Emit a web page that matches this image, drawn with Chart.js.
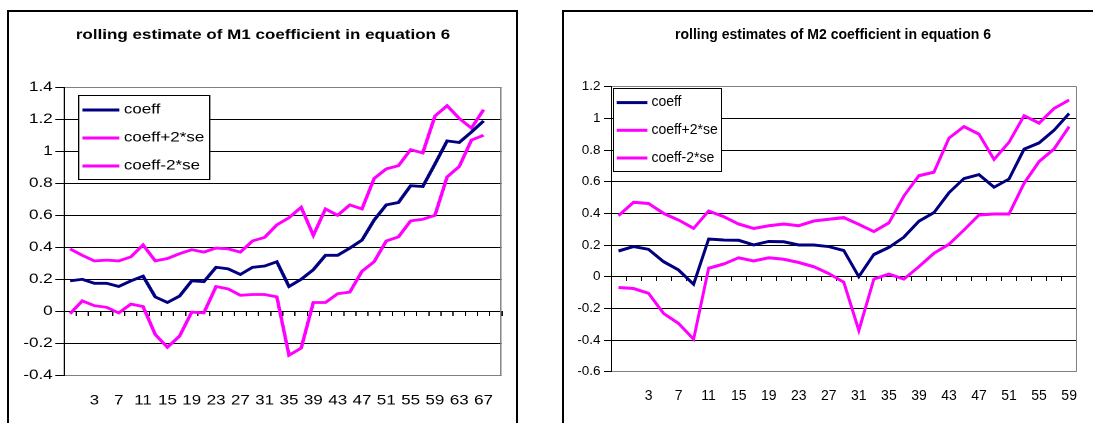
<!DOCTYPE html>
<html><head><meta charset="utf-8">
<script src="https://cdn.jsdelivr.net/npm/chart.js@4.4.1/dist/chart.umd.min.js"></script>
<style>
html,body{margin:0;padding:0;background:#fff;width:1093px;height:423px;overflow:hidden;position:relative}
.box{position:absolute;border:2px solid #000;box-sizing:border-box}
#box1{left:7px;top:10px;width:511px;height:460px}
#box2{left:562px;top:10px;width:600px;height:460px}
#c1{position:absolute;left:0;top:0;transform:scaleX(1.26);transform-origin:0 0}
#c2{position:absolute;left:556px;top:0}
</style></head><body>
<div class="box" id="box1"></div><div class="box" id="box2"></div>
<canvas id="c1" width="411" height="423"></canvas>
<canvas id="c2" width="537" height="423"></canvas>
<script>
// ---- data ----
const m1Periods = ["","1","3","5","7","9","11","13","15","17","19","21","23","25","27","29","31","33","35","37","39","41","43","45","47","49","51","53","55","57","59","61","63","65","67","69"];
const m1Coeff = [0.19,0.20,0.175,0.175,0.155,0.19,0.22,0.09,0.055,0.095,0.19,0.185,0.275,0.265,0.23,0.275,0.283,0.31,0.155,0.20,0.26,0.35,0.35,0.395,0.445,0.57,0.665,0.68,0.785,0.78,0.92,1.065,1.055,1.12,1.19,null];
const m1Upper = [0.39,0.35,0.315,0.32,0.315,0.34,0.415,0.315,0.33,0.36,0.385,0.37,0.395,0.39,0.37,0.44,0.462,0.54,0.585,0.65,0.475,0.64,0.60,0.665,0.64,0.83,0.89,0.91,1.01,0.99,1.22,1.285,1.205,1.145,1.26,null];
const m1Lower = [-0.015,0.065,0.035,0.025,-0.01,0.045,0.03,-0.145,-0.225,-0.155,-0.005,-0.01,0.155,0.14,0.10,0.105,0.105,0.09,-0.275,-0.23,0.055,0.055,0.11,0.12,0.25,0.31,0.44,0.465,0.565,0.575,0.60,0.84,0.905,1.07,1.10,null];

const m2Periods = ["","1","3","5","7","9","11","13","15","17","19","21","23","25","27","29","31","33","35","37","39","41","43","45","47","49","51","53","55","57","59"];
const m2Coeff = [0.162,0.19,0.173,0.095,0.042,-0.048,0.238,0.232,0.23,0.20,0.223,0.22,0.20,0.20,0.19,0.165,0.0,0.14,0.185,0.25,0.35,0.405,0.53,0.62,0.645,0.565,0.617,0.805,0.845,0.925,1.03];
const m2Upper = [0.385,0.47,0.463,0.40,0.358,0.305,0.415,0.38,0.333,0.305,0.322,0.333,0.322,0.352,0.363,0.373,0.33,0.285,0.34,0.51,0.638,0.66,0.875,0.948,0.90,0.74,0.85,1.017,0.97,1.063,1.116];
const m2Lower = [-0.068,-0.075,-0.105,-0.232,-0.295,-0.395,0.053,0.08,0.12,0.10,0.12,0.11,0.09,0.063,0.02,-0.035,-0.34,-0.015,0.017,-0.015,0.063,0.148,0.205,0.295,0.39,0.396,0.396,0.59,0.727,0.807,0.948];

const seriesLabels = ["coeff","coeff+2*se","coeff-2*se"];
const seriesColors = ["#000080","#FF00FF","#FF00FF"];
const FAMILY = "'Liberation Sans', Arial, sans-serif";

// ---- plugins ----
const plotFrame = {
  id: 'plotFrame',
  beforeDatasetsDraw(chart) {
    const {ctx, chartArea: a} = chart;
    ctx.save();
    ctx.strokeStyle = '#808080'; ctx.lineWidth = 1;
    const x = Math.round(a.right) - 0.5;
    ctx.beginPath(); ctx.moveTo(x, a.top); ctx.lineTo(x, a.bottom); ctx.stroke();
    ctx.restore();
  }
};
const boxedLegend = {
  id: 'boxedLegend',
  afterDatasetsDraw(chart, args, o) {
    const {ctx, chartArea} = chart;
    const x = Math.round(chartArea.left + o.dx), y = Math.round(chartArea.top + o.dy);
    ctx.save();
    ctx.fillStyle = '#fff'; ctx.fillRect(x, y, o.w, o.h);
    ctx.strokeStyle = '#000'; ctx.lineWidth = 1; ctx.strokeRect(x + 0.5, y + 0.5, o.w, o.h);
    ctx.font = o.font; ctx.textBaseline = 'middle'; ctx.textAlign = 'left';
    chart.data.datasets.forEach((ds, i) => {
      const cy = y + o.first + i * o.rowH;
      ctx.strokeStyle = ds.borderColor; ctx.lineWidth = o.lw;
      ctx.beginPath(); ctx.moveTo(x + o.lineX0, cy); ctx.lineTo(x + o.lineX1, cy); ctx.stroke();
      ctx.fillStyle = '#000';
      ctx.fillText(ds.label, x + o.textX, cy);
    });
    ctx.restore();
  }
};

function makeChart(canvas, c) {
  const series = [c.coeff, c.upper, c.lower];
  return new Chart(canvas, {
    type: 'line',
    data: {
      labels: c.labels,
      datasets: series.map((d, i) => ({
        label: seriesLabels[i], data: d, borderColor: seriesColors[i],
        backgroundColor: seriesColors[i], borderWidth: c.lw, pointRadius: 0, tension: 0, fill: false
      }))
    },
    options: {
      responsive: false, animation: false, devicePixelRatio: c.dpr,
      layout: {padding: {left: c.padL, right: c.padR, top: 0, bottom: 0}},
      plugins: {
        legend: {display: false}, tooltip: {enabled: false},
        title: {display: true, text: c.title, color: '#000',
          font: {family: FAMILY, size: c.titleSize, weight: 'bold', lineHeight: 1.2},
          padding: {top: c.titleTop, bottom: c.titleBottom}},
        boxedLegend: c.legend
      },
      scales: {
        x: {
          type: 'category', position: 'bottom', offset: true,
          grid: {display: false, drawTicks: false}, border: {display: false},
          ticks: {autoSkip: false, maxRotation: 0, minRotation: 0, padding: c.xPad, color: '#000',
            font: {family: FAMILY, size: c.xTickSize},
            callback(v, i) { return i % 2 === 0 ? this.getLabelForValue(v) : ''; }},
          afterFit(s) { s.height = c.xh; }
        },
        x2: {
          type: 'category', position: {y: 0}, offset: true,
          grid: {offset: true, drawOnChartArea: false, drawTicks: true, tickLength: 4, color: '#000', lineWidth: 1},
          border: {display: true, color: '#000', width: 1},
          ticks: {display: false, autoSkip: false}
        },
        y: {
          position: 'left', min: c.min, max: c.max,
          ticks: {stepSize: 0.2, padding: c.yPad, color: '#000', font: {family: FAMILY, size: c.yTickSize},
            callback: v => String(+v.toFixed(1))},
          grid: {color: g => (g.tick && (Math.abs(g.tick.value - c.max) < 1e-6 || Math.abs(g.tick.value - c.min) < 1e-6)) ? '#808080' : '#000',
            tickColor: '#000', tickLength: c.yTick, lineWidth: 1},
          border: {color: '#000', width: 1},
          afterFit(s) { s.width = c.yw; }
        }
      }
    },
    plugins: [plotFrame, boxedLegend]
  });
}

makeChart(document.getElementById('c1'), {
  labels: m1Periods, coeff: m1Coeff, upper: m1Upper, lower: m1Lower,
  title: 'rolling estimate of M1 coefficient in equation 6', titleSize: 13.5, titleTop: 27, titleBottom: 44.1,
  min: -0.4, max: 1.4, dpr: 2, lw: 2.8, padL: 11.1, padR: 4.7, yw: 39.7, xh: 47.7,
  xTickSize: 13.5, yTickSize: 13.5, xPad: 17.5, yPad: 2, yTick: 7,
  legend: {dx: 10.9, dy: 7.7, w: 104, h: 84, first: 15, rowH: 28, lineX0: 3.4, lineX1: 32.7, textX: 36.2, lw: 3, font: "13.5px " + FAMILY}
});
makeChart(document.getElementById('c2'), {
  labels: m2Periods, coeff: m2Coeff, upper: m2Upper, lower: m2Lower,
  title: 'rolling estimates of M2 coefficient in equation 6', titleSize: 14, titleTop: 26.8, titleBottom: 43.1,
  min: -0.6, max: 1.2, dpr: 1, lw: 3, padL: 22, padR: 5, yw: 33, xh: 51.3,
  xTickSize: 14, yTickSize: 13.5, xPad: 16, yPad: 3.5, yTick: 7,
  legend: {dx: 2.3, dy: 1, w: 108, h: 83, first: 14.6, rowH: 27.7, lineX0: 3.7, lineX1: 34.4, textX: 38.4, lw: 3, font: "14px " + FAMILY}
});
</script>
</body></html>
